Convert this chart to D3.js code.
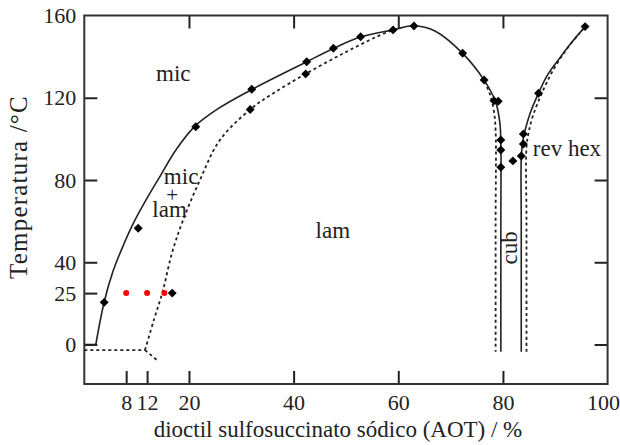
<!DOCTYPE html>
<html><head><meta charset="utf-8">
<script src="https://cdn.jsdelivr.net/npm/d3@7"></script>
<style>
html,body{margin:0;padding:0;background:#fff;}
svg{display:block;}
text{font-family:"Liberation Serif","Times New Roman",serif;fill:#222;}
</style></head><body>
<svg id="c" width="620" height="445"></svg>
<script>
// ---------- data ----------
const xTicksBottom = [8, 12, 20, 40, 60, 80, 100];
const xTicksTop = [20, 40, 60, 80];
const yTicksLeft = [0, 25, 40, 80, 120, 160];
const yTicksRight = [0, 40, 80, 120];

// measured points (AOT %, temperature °C)
const diamonds = [
  [3.8,20.5],[10.3,56.5],[16.8,25],[21.3,105.9],[32,124.1],[31.7,114.3],
  [42.5,137.5],[42.3,131.6],[47.6,144.1],[52.8,149.7],[59,153],[63,154.9],
  [72.3,141.6],[76.4,128.6],[78.3,118.5],[79.1,118.3],[79.6,99.5],[79.6,94.6],
  [79.6,86.2],[81.9,89.3],[83.5,91.7],[83.9,97.5],[83.9,102.4],[86.8,122.2],[95.7,154.6]
];
const redDots = [[8,25],[12,25],[15.3,25]];

// phase boundaries
const solidStart = [[0,0],[2.2,0]];
const solidMic = [[2.2,0],[3.8,20.7],[5.5,35.7],[7.4,47.9],[9.5,59.6],[11.8,70.3],[14.5,81.9],
  [17.5,94.6],[21.2,106.3],[25.5,114.6],[32,124],[42.5,137.5],[47.6,144],[52.8,149.5],[59,153],
  [63,155],[67,152.5],[72.3,141.6],[76.4,128.6],[78.6,118],[79.4,108],[79.6,98],[79.6,60],[79.6,-3.5]];
const dashedStart = [[0,-2.7],[11.6,-2.7]];
const dashedStub = [[11.6,-2.7],[13.8,-7.4]];
const dashedLam = [[11.6,-2.7],[13.3,12],[15,26],[16.7,44],[18.8,60],[22.1,80],[25.9,99.4],
  [31.7,114.3],[36,122],[42.3,131.6],[49.5,141.6],[55.9,149.7],[59,153]];
const dashedCubL = [[76.5,128],[77.6,121],[78.3,113],[78.6,104],[78.6,60],[78.6,-3.5]];
const solidHex = [[83.5,-3.5],[83.5,60],[83.5,90],[83.8,99],[85.2,112.5],[86.8,122.2],[88.5,131],
  [90.9,139.5],[93,146.5],[95.7,154.6]];
const dashedHex = [[84.5,-3.5],[84.5,60],[84.5,96],[84.9,103],[85.7,111],[87.4,122],[89.5,133],
  [92,143],[94.5,151],[95.7,154.6]];

const labels = [
  {t:"mic", x:17, y:128, anchor:"middle", fs:23},
  {t:"mic", x:18.5, y:78, anchor:"middle", fs:23},
  {t:"+", x:16.8, y:69.5, anchor:"middle", fs:21},
  {t:"lam", x:16.3, y:62, anchor:"middle", fs:23},
  {t:"lam", x:47.5, y:52, anchor:"middle", fs:23},
  {t:"rev hex", x:85.7, y:91.8, anchor:"start", fs:23}
];

// ---------- chart ----------
const svg = d3.select("#c");
const X0 = 84.3, X1 = 607.6, Y0 = 384, Y1 = 15.5;
const x = d3.scaleLinear().domain([0,100]).range([X0, X1]);
const y = d3.scaleLinear().domain([-19.2,160]).range([Y0, Y1]);
const ink = "#222";

// axes
const fs = 22;
const gB = svg.append("g").attr("transform",`translate(0,${Y0})`)
  .call(d3.axisBottom(x).tickValues(xTicksBottom).tickFormat(d3.format("d"))
    .tickSizeInner(-13).tickSizeOuter(0).tickPadding(10));
gB.selectAll(".tick line").filter(d=>d===100).remove();
gB.selectAll(".tick text").filter(d=>d===100).attr("text-anchor","end").attr("x",12);
const gT = svg.append("g").attr("transform",`translate(0,${Y1})`)
  .call(d3.axisTop(x).tickValues(xTicksTop).tickFormat("").tickSizeInner(-13).tickSizeOuter(0));
const gL = svg.append("g").attr("transform",`translate(${X0},0)`)
  .call(d3.axisLeft(y).tickValues(yTicksLeft).tickFormat(d3.format("d"))
    .tickSizeInner(-13).tickSizeOuter(0).tickPadding(8));
gL.selectAll(".tick line").filter(d=>d===160).remove();
const gR = svg.append("g").attr("transform",`translate(${X1},0)`)
  .call(d3.axisRight(y).tickValues(yTicksRight).tickFormat("").tickSizeInner(-13).tickSizeOuter(0));
[gB,gT,gL,gR].forEach(g=>{
  g.select(".domain").remove();
  g.selectAll(".tick line").attr("stroke",ink).attr("stroke-width",2);
  g.selectAll(".tick text").attr("font-size",fs).attr("font-family","Liberation Serif").attr("fill",ink);
});

// frame
svg.append("rect").attr("x",X0).attr("y",Y1).attr("width",X1-X0).attr("height",Y0-Y1)
  .attr("fill","none").attr("stroke","#333").attr("stroke-width",2);

// boundaries
const lineLin = d3.line().x(d=>x(d[0])).y(d=>y(d[1]));
const lineCurve = d3.line().x(d=>x(d[0])).y(d=>y(d[1])).curve(d3.curveCatmullRom.alpha(0.5));
function draw(data, curved, dashed){
  svg.append("path").attr("d",(curved?lineCurve:lineLin)(data))
    .attr("fill","none").attr("stroke",ink)
    .attr("stroke-width",dashed?1.8:1.6)
    .attr("stroke-dasharray",dashed?"3,3":null);
}
draw(solidStart,false,false);
draw(solidMic,true,false);
draw(solidHex,true,false);
draw(dashedStart,false,true);
draw(dashedStub,false,true);
draw(dashedLam,true,true);
draw(dashedCubL,true,true);
draw(dashedHex,true,true);

// markers
svg.append("g").selectAll("path").data(diamonds).join("path")
  .attr("d",d3.symbol().type(d3.symbolSquare).size(40))
  .attr("transform",d=>`translate(${x(d[0])},${y(d[1])}) rotate(45)`)
  .attr("fill","#000");
svg.append("g").selectAll("circle").data(redDots).join("circle")
  .attr("cx",d=>x(d[0])).attr("cy",d=>y(d[1])).attr("r",3).attr("fill","#f00");

// region labels
svg.append("g").selectAll("text").data(labels).join("text")
  .attr("x",d=>x(d.x)).attr("y",d=>y(d.y)).attr("text-anchor",d=>d.anchor)
  .attr("font-size",d=>d.fs).text(d=>d.t);
svg.append("text").attr("transform",`translate(${x(81.5)+6},${y(47)}) rotate(-90)`)
  .attr("text-anchor","middle").attr("font-size",23).text("cub");

// axis titles
svg.append("text").attr("x",338).attr("y",437).attr("text-anchor","middle")
  .attr("font-size",23).text("dioctil sulfosuccinato sódico (AOT) / %");
svg.append("text").attr("transform",`translate(27,187) rotate(-90)`)
  .attr("text-anchor","middle").attr("font-size",25).attr("letter-spacing",1.2)
  .text("Temperatura /°C");
</script>
</body></html>
